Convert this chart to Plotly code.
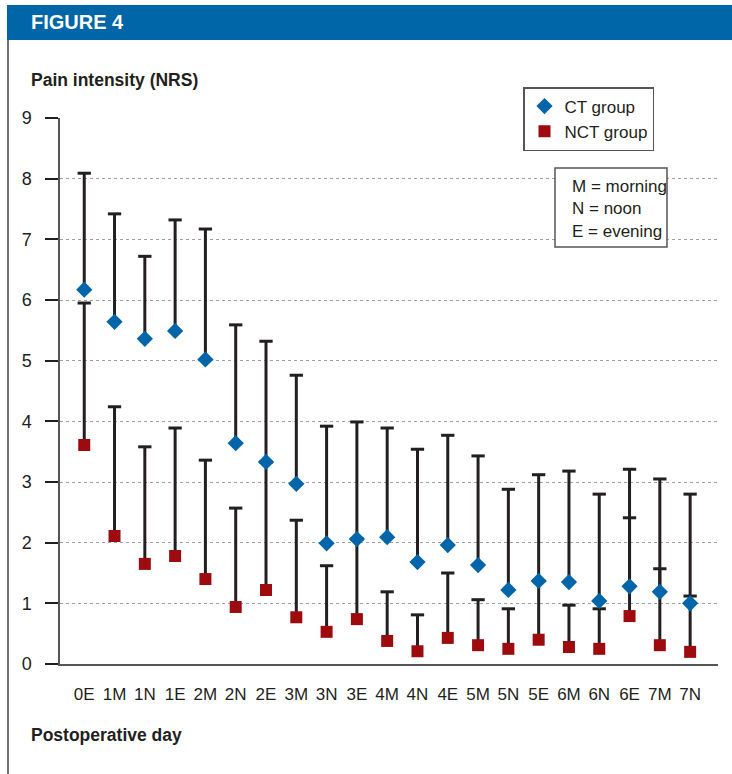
import plotly.graph_objects as go

categories = ["0E", "1M", "1N", "1E", "2M", "2N", "2E", "3M", "3N", "3E", "4M",
              "4N", "4E", "5M", "5N", "5E", "6M", "6N", "6E", "7M", "7N"]

ct_mean = [6.17, 5.64, 5.36, 5.49, 5.02, 3.64, 3.33, 2.97, 1.99, 2.06, 2.09,
           1.68, 1.96, 1.63, 1.22, 1.37, 1.35, 1.04, 1.28, 1.19, 1.00]
ct_sd = [1.92, 1.78, 1.36, 1.83, 2.15, 1.95, 1.99, 1.79, 1.93, 1.93, 1.80,
         1.86, 1.81, 1.80, 1.66, 1.75, 1.83, 1.76, 1.93, 1.86, 1.80]

nct_mean = [3.61, 2.11, 1.65, 1.78, 1.40, 0.94, 1.22, 0.77, 0.53, 0.74, 0.38,
            0.21, 0.43, 0.31, 0.25, 0.40, 0.28, 0.25, 0.79, 0.31, 0.20]
nct_sd = [2.34, 2.13, 1.93, 2.11, 1.96, 1.63, 2.11, 1.60, 1.09, 1.32, 0.81,
          0.60, 1.07, 0.75, 0.66, 0.97, 0.69, 0.66, 1.62, 1.26, 0.92]

y_ticks = list(range(0, 10))

BLUE = "#0065a9"
RED = "#9e0b0f"
DARK = "#231f20"
SANS = "Liberation Sans, Arial, sans-serif"

fig = go.Figure()

# upward SD bars: stem (no caps) + cap marker at mean + SD; markers drawn last
for mean, sd in [(nct_mean, nct_sd), (ct_mean, ct_sd)]:
    fig.add_trace(go.Scatter(
        x=categories, y=mean, mode="markers", showlegend=False, hoverinfo="skip",
        marker=dict(size=1, opacity=0),
        error_y=dict(type="data", symmetric=False, array=sd,
                     arrayminus=[0] * len(sd), color=DARK, thickness=3, width=0),
    ))
    fig.add_trace(go.Scatter(
        x=categories, y=[m + s for m, s in zip(mean, sd)], mode="markers",
        showlegend=False, hoverinfo="skip",
        marker=dict(symbol="line-ew", size=9.5, line=dict(color=DARK, width=3)),
    ))

fig.add_trace(go.Scatter(
    x=categories, y=nct_mean, mode="markers", name="NCT group", legendrank=2,
    marker=dict(symbol="square", size=12, color=RED, line=dict(width=0)),
))
fig.add_trace(go.Scatter(
    x=categories, y=ct_mean, mode="markers", name="CT group", legendrank=1,
    marker=dict(symbol="diamond", size=12.5, color=BLUE, line=dict(width=0)),
))

L, R, T, B = 60, 14, 118, 110
W, H = 732, 774
pw, ph = W - L - R, H - T - B


def px(x):
    return (x - L) / pw


def py(y):
    return (H - B - y) / ph


shapes = [
    dict(type="rect", xref="paper", yref="paper", x0=px(7), x1=px(732),
         y0=py(5), y1=py(40), fillcolor="#0066a8", line=dict(width=0), layer="above"),
    dict(type="line", xref="paper", yref="paper", x0=px(8), x1=px(8),
         y0=py(40), y1=py(774), line=dict(color="#444444", width=1.5)),
    dict(type="rect", xref="paper", yref="paper", x0=px(555), x1=px(667),
         y0=py(168), y1=py(247), fillcolor="white",
         line=dict(color="#555555", width=1.5), layer="above"),
]

annotations = [
    dict(text="<b>FIGURE 4</b>", xref="paper", yref="paper", x=px(29), y=py(22),
         xanchor="left", yanchor="middle", showarrow=False,
         font=dict(family=SANS, size=20, color="white")),
    dict(text="<b>Pain intensity (NRS)</b>", xref="paper", yref="paper", x=px(29), y=py(80),
         xanchor="left", yanchor="middle", showarrow=False,
         font=dict(family=SANS, size=17.5, color=DARK)),
    dict(text="<b>Postoperative day</b>", xref="paper", yref="paper", x=px(29), y=py(735),
         xanchor="left", yanchor="middle", showarrow=False,
         font=dict(family=SANS, size=17.5, color=DARK)),
]
for txt, yc in [("M = morning", 186), ("N = noon", 208.5), ("E = evening", 231)]:
    annotations.append(dict(text=txt, xref="paper", yref="paper", x=px(570), y=py(yc),
                            xanchor="left", yanchor="middle", showarrow=False,
                            font=dict(family=SANS, size=17, color=DARK)))

fig.update_layout(
    width=W, height=H,
    margin=dict(l=L, r=R, t=T, b=B),
    paper_bgcolor="white", plot_bgcolor="white",
    showlegend=True,
    legend=dict(x=px(523), y=py(87), xanchor="left", yanchor="top",
                bordercolor="#555555", borderwidth=1.5, bgcolor="white",
                font=dict(family=SANS, size=17, color=DARK),
                tracegroupgap=0),
    shapes=shapes,
    annotations=annotations,
    xaxis=dict(
        type="category", categoryorder="array", categoryarray=categories,
        range=[-0.8, 20.92], showline=True, linecolor="#555555", linewidth=2,
        ticks="", showgrid=False, zeroline=False,
        tickfont=dict(family=SANS, size=17, color=DARK),
        ticklabelstandoff=14,
    ),
    yaxis=dict(
        range=[0, 9], tickvals=y_ticks, showline=True, linecolor="#555555", linewidth=1.5,
        ticks="outside", ticklen=13, tickwidth=2, tickcolor=DARK,
        showgrid=True, gridcolor="#a0a0a0", gridwidth=1, griddash="dot",
        zeroline=False, tickfont=dict(family=SANS, size=18, color=DARK),
        ticklabelstandoff=10,
    ),
)

fig.write_html("out.html", config={"displayModeBar": False},
               post_script="document.body.style.margin='0';")
